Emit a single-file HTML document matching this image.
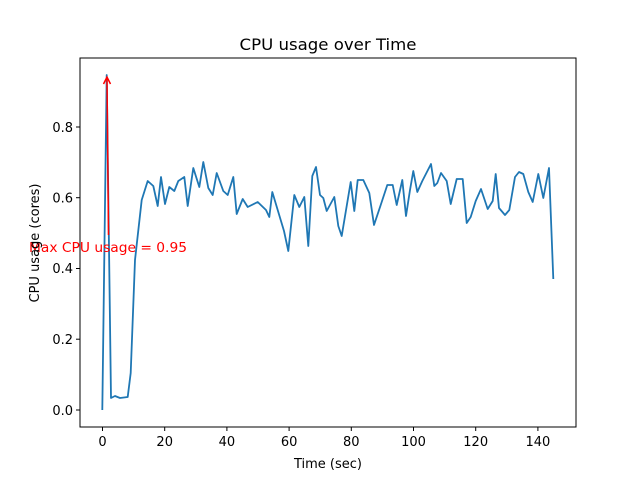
<!DOCTYPE html>
<html><head><meta charset="utf-8"><style>body{margin:0;background:#fff}</style></head><body>
<svg width="640" height="480" xmlns="http://www.w3.org/2000/svg" font-family="DejaVu Sans, Liberation Sans, sans-serif">
<rect width="640" height="480" fill="#fff"/>
<polyline fill="none" stroke="#1f77b4" stroke-width="1.8" stroke-linejoin="round" points="102.3,410 106.7,75 111,398 115,396 120,398 127.7,397 130.7,373 135,260 141.7,200 147.7,181 153.3,186 157.7,206 161,177 165,204 169.3,187 174.3,191 178.3,181 184.3,177 187.7,206 193.3,168 199.3,187 203.3,162 208.3,188 212.7,195 216.7,173 223.3,191 227.7,195 233.3,177 236.7,214 242.7,199 247.7,207 257.7,202 266,210 269.3,217 272.3,192 284,231 288.3,251 294.3,195 299.3,207 304.3,197 308.3,246 312.3,176 316,167 320,195 323.3,198 326.7,211 334.3,197 338.3,226 341.7,236 350.7,182 354.3,211 357.7,180 363.3,180 369.3,193 374,225 381.7,202 387.3,185 392.7,185 396.7,205 402.3,180 406,216 410,190 413.3,171 417.3,192 422.3,181 431,164 434.3,186 437.3,183 441,173 446.7,181 450.7,204 456.7,179 462.7,179 466.7,223 470.7,217 475.7,201 481,189 487.7,209 492.7,201 495.7,174 499,208 505,215 509.3,210 515,177 519,172 523.3,174 528.3,192 532.7,202 538.3,174 543.3,198 549,168 553.3,279"/>
<line x1="108.5" y1="235" x2="107" y2="78" stroke="red" stroke-width="1.5"/>
<polyline points="103.5,84 107,77 110.5,84" fill="none" stroke="red" stroke-width="1.5"/>
<text x="29" y="252" font-size="13.3" fill="red" textLength="158" lengthAdjust="spacingAndGlyphs">Max CPU usage = 0.95</text>
<rect x="80" y="58" width="496" height="369" fill="none" stroke="#000" stroke-width="1"/>
<g stroke="#000">
<line x1="102.5" y1="427" x2="102.5" y2="431"/><line x1="164.7" y1="427" x2="164.7" y2="431"/><line x1="226.9" y1="427" x2="226.9" y2="431"/><line x1="289.1" y1="427" x2="289.1" y2="431"/><line x1="351.3" y1="427" x2="351.3" y2="431"/><line x1="413.5" y1="427" x2="413.5" y2="431"/><line x1="475.7" y1="427" x2="475.7" y2="431"/><line x1="537.9" y1="427" x2="537.9" y2="431"/>
<line x1="76" y1="410" x2="80" y2="410"/><line x1="76" y1="339.2" x2="80" y2="339.2"/><line x1="76" y1="268.5" x2="80" y2="268.5"/><line x1="76" y1="197.7" x2="80" y2="197.7"/><line x1="76" y1="127" x2="80" y2="127"/>
</g>
<g font-size="13" text-anchor="middle" fill="#000">
<text x="102.5" y="446">0</text><text x="164.7" y="446">20</text><text x="226.9" y="446">40</text><text x="289.1" y="446">60</text><text x="351.3" y="446">80</text><text x="413.5" y="446">100</text><text x="475.7" y="446">120</text><text x="537.9" y="446">140</text>
<text x="328" y="468">Time (sec)</text>
<text x="328" y="50" font-size="16" textLength="177" lengthAdjust="spacingAndGlyphs">CPU usage over Time</text>
</g>
<g font-size="13" text-anchor="end" fill="#000">
<text x="73" y="415">0.0</text><text x="73" y="344">0.2</text><text x="73" y="273">0.4</text><text x="73" y="202.5">0.6</text><text x="73" y="132">0.8</text>
</g>
<text transform="translate(39,243) rotate(-90)" font-size="13" text-anchor="middle">CPU usage (cores)</text>
</svg>
</body></html>
